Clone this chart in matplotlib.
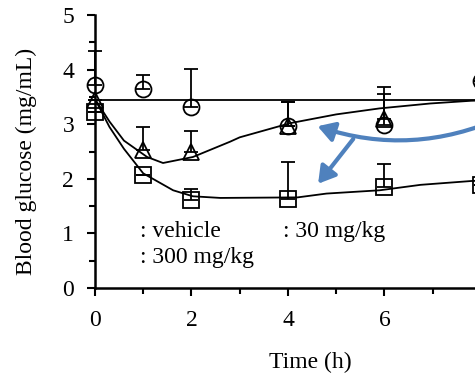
import numpy as np
import matplotlib.pyplot as plt
from matplotlib.patches import FancyArrowPatch
from matplotlib.ticker import MultipleLocator

plt.rcParams['font.family'] = ['Liberation Serif', 'DejaVu Serif']

# measured points (time in h, glucose in mg/mL) with upper error
t_pts = [0, 1, 2, 4, 6, 8]
vehicle = [3.72, 3.64, 3.32, 2.97, 2.99, 3.80]
vehicle_err = [0.62, 0.26, 0.69, 0.44, 0.69, 0.0]
dose30 = [3.45, 2.53, 2.50, 2.97, 3.10, np.nan]
dose30_err = [0.0, 0.42, 0.38, 0.44, 0.45, 0.0]
dose300 = [3.22, 2.07, 1.61, 1.63, 1.85, 1.88]
dose300_err = [0.0, 0.0, 0.20, 0.68, 0.42, 0.0]

# fitted curves
fit_vehicle_t = [0, 8.6]
fit_vehicle = [3.44, 3.44]
fit30_t = [0, 0.3, 0.6, 1.08, 1.41, 2.03, 2.8, 3.0, 4.05, 5.0, 5.9, 6.95, 7.8, 8.6]
fit30 = [3.46, 3.05, 2.7, 2.40, 2.29, 2.40, 2.68, 2.76, 3.02, 3.18, 3.29, 3.38, 3.43, 3.45]
fit300_t = [0, 0.3, 0.6, 1.0, 1.62, 2.03, 2.6, 4.2, 4.8, 5.9, 6.75, 7.8, 8.6]
fit300 = [3.46, 2.95, 2.55, 2.10, 1.79, 1.68, 1.65, 1.66, 1.73, 1.79, 1.89, 1.96, 1.99]

fig = plt.figure(figsize=(4.75, 3.76), dpi=100)
ax = fig.add_axes([0.2, 0.234, 410 / 475, 0.726])

ax.plot(fit_vehicle_t, fit_vehicle, color='black', lw=1.3, clip_on=False)
ax.plot(fit30_t, fit30, color='black', lw=1.3)
ax.plot(fit300_t, fit300, color='black', lw=1.3)

zeros = np.zeros(len(t_pts))
for y, err, m in [(vehicle, vehicle_err, 'o'), (dose30, dose30_err, '^'),
                  (dose300, dose300_err, 's')]:
    ax.errorbar(t_pts, y, yerr=[zeros, err], fmt=m, ms=11.5, mfc='none', mec='black',
                mew=1.3, ecolor='black', elinewidth=1.3, capsize=5, capthick=1.3,
                clip_on=False)

blue = '#4f81bd'
ax.add_patch(FancyArrowPatch((8.5, 3.15), (4.56, 2.98), connectionstyle='arc3,rad=-0.2',
                             arrowstyle='-|>,head_length=10,head_width=6', color=blue,
                             lw=3, mutation_scale=1))
ax.add_patch(FancyArrowPatch((5.39, 2.77), (4.59, 1.87),
                             arrowstyle='-|>,head_length=10,head_width=6', color=blue,
                             lw=3, mutation_scale=1))

ax.text(0.93, 1.03, ': vehicle', fontsize=17, va='center')
ax.text(3.9, 1.03, ': 30 mg/kg', fontsize=17, va='center')
ax.text(0.93, 0.55, ': 300 mg/kg', fontsize=17, va='center')

ax.set_xlim(0, 8.5)
ax.set_ylim(0, 5)
ax.xaxis.set_major_locator(MultipleLocator(2))
ax.xaxis.set_minor_locator(MultipleLocator(1))
ax.yaxis.set_major_locator(MultipleLocator(1))
ax.yaxis.set_minor_locator(MultipleLocator(0.5))
ax.tick_params(which='both', direction='out', width=1.5, labelsize=17)
ax.tick_params(which='major', length=6)
ax.tick_params(which='minor', length=4)
ax.tick_params(axis='x', pad=10)
ax.tick_params(axis='y', pad=9)
for s in ['top', 'right']:
    ax.spines[s].set_visible(False)
for s in ['left', 'bottom']:
    ax.spines[s].set_linewidth(1.8)

ax.set_xlabel('Time (h)', fontsize=17, va='center')
ax.set_ylabel('Blood glucose (mg/mL)', fontsize=17, va='center')
ax.xaxis.set_label_coords((310 - 95) / 410, (288 - 362) / 273)
ax.yaxis.set_label_coords((26 - 95) / 410, (288 - 161) / 273)

fig.savefig('out.png', dpi=100)
